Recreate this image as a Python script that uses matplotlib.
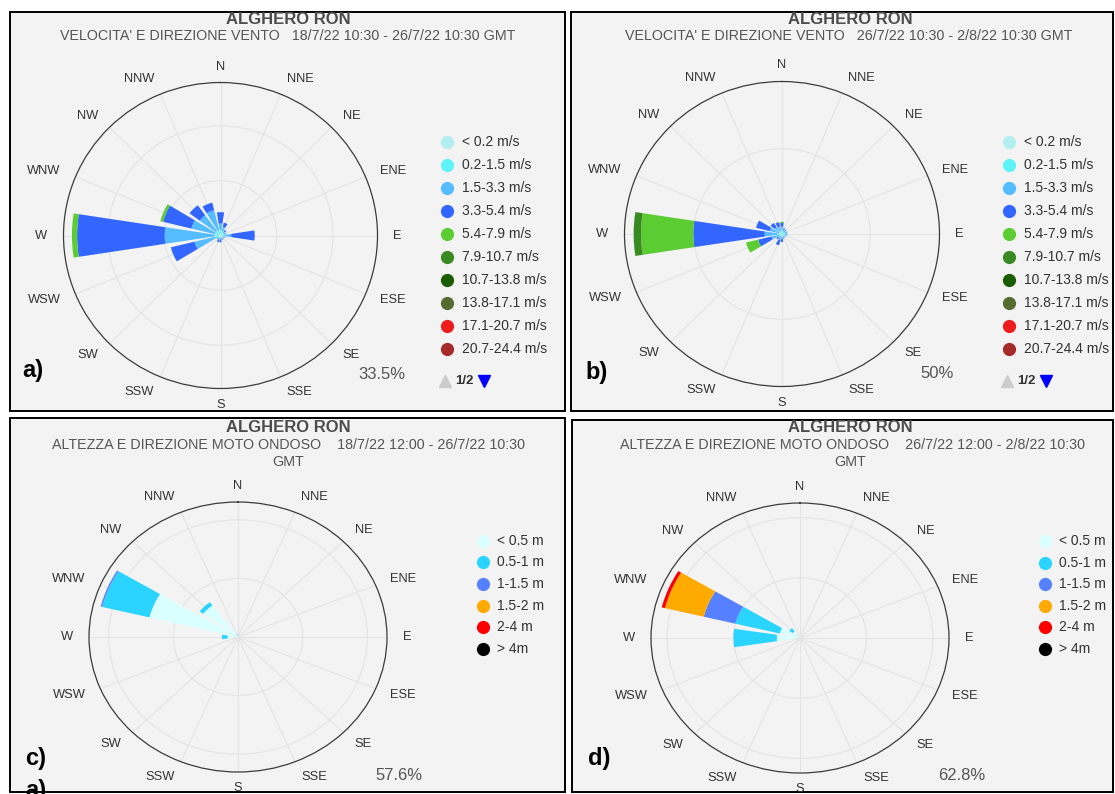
import numpy as np
import matplotlib
matplotlib.use('Agg')
import matplotlib.pyplot as plt
from matplotlib.patches import Rectangle

plt.rcParams['font.family'] = ['Liberation Sans', 'DejaVu Sans']

# ---------------- data ----------------
directions = ['N', 'NNE', 'NE', 'ENE', 'E', 'ESE', 'SE', 'SSE',
              'S', 'SSW', 'SW', 'WSW', 'W', 'WNW', 'NW', 'NNW']

wind_bins = ['< 0.2 m/s', '0.2-1.5 m/s', '1.5-3.3 m/s', '3.3-5.4 m/s', '5.4-7.9 m/s',
             '7.9-10.7 m/s', '10.7-13.8 m/s', '13.8-17.1 m/s', '17.1-20.7 m/s', '20.7-24.4 m/s']
wind_colors = ['#b3eef0', '#5ef3f8', '#55bcff', '#3366ff', '#5ccc33',
               '#3a8a24', '#1a5c00', '#556b2f', '#ee1c1c', '#a52a2a']

wave_bins = ['< 0.5 m', '0.5-1 m', '1-1.5 m', '1.5-2 m', '2-4 m', '> 4m']
wave_colors = ['#d9ffff', '#2ad4ff', '#5580ff', '#ffaa00', '#ff0000', '#000000']

# percent frequency per speed class (rows) and direction (N..NNW)
wind_a = [
    [0.3, 0.3, 0.3, 0.3, 0.3, 0.3, 0.3, 0.3, 0.3, 0.3, 0.3, 0.3, 0.3, 0.3, 0.3, 0.3],
    [0.9, 0.7, 0.5, 0.4, 0.7, 0.4, 0.3, 0.3, 0.3, 0.3, 0.3, 0.9, 1.0, 0.9, 0.9, 0.9],
    [1.4, 1.0, 0.4, 0.3, 1.3, 0.2, 0.2, 0.2, 0.3, 0.3, 0.2, 4.5, 10.6, 5.2, 4.3, 4.5],
    [2.5, 0.9, 0.3, 0.2, 5.0, 0.1, 0.1, 0.2, 0.6, 0.6, 0.2, 5.2, 18.7, 6.2, 2.7, 1.7],
    [0.0, 0.0, 0.0, 0.0, 0.0, 0.0, 0.0, 0.0, 0.0, 0.0, 0.0, 0.0, 1.1, 0.6, 0.0, 0.0],
]
wind_b = [
    [0.3, 0.3, 0.3, 0.3, 0.3, 0.3, 0.3, 0.3, 0.3, 0.3, 0.3, 0.3, 0.3, 0.3, 0.3, 0.3],
    [0.8, 0.6, 0.6, 0.6, 0.7, 0.6, 0.5, 0.5, 0.5, 0.5, 0.5, 0.8, 1.0, 0.8, 0.8, 0.8],
    [1.3, 0.7, 0.6, 0.6, 0.8, 0.7, 0.4, 0.5, 0.8, 1.2, 0.8, 2.4, 4.2, 2.9, 1.7, 1.4],
    [1.2, 0.4, 0.2, 0.1, 0.0, 0.0, 0.0, 0.3, 1.0, 1.8, 0.6, 4.3, 22.65, 4.5, 1.7, 1.5],
    [0.4, 0.0, 0.0, 0.0, 0.0, 0.0, 0.0, 0.0, 0.0, 0.0, 0.0, 3.95, 16.6, 0.0, 0.0, 0.0],
    [0.0, 0.0, 0.0, 0.0, 0.0, 0.0, 0.0, 0.0, 0.0, 0.0, 0.0, 0.0, 2.35, 0.0, 0.0, 0.0],
]
wave_c = [
    [0.8, 0.3, 0.3, 0.3, 0.3, 0.3, 0.3, 0.3, 0.3, 0.3, 0.3, 0.3, 4.0, 35.25, 16.7, 0.5],
    [0.4, 0.0, 0.0, 0.0, 0.0, 0.0, 0.0, 0.0, 0.0, 0.0, 0.0, 0.0, 2.2, 18.8, 1.7, 0.0],
    [0.0, 0.0, 0.0, 0.0, 0.0, 0.0, 0.0, 0.0, 0.0, 0.0, 0.0, 0.0, 0.0, 0.6, 0.0, 0.0],
]
wave_d = [
    [0.3, 0.3, 0.3, 0.3, 0.3, 0.3, 0.3, 0.3, 0.3, 0.3, 0.3, 0.3, 9.8, 8.8, 3.8, 0.3],
    [0.0, 0.0, 0.0, 0.0, 0.0, 0.0, 0.0, 0.0, 0.0, 0.0, 0.0, 0.0, 18.27, 19.27, 1.85, 0.0],
    [0.0, 0.0, 0.0, 0.0, 0.0, 0.0, 0.0, 0.0, 0.0, 0.0, 0.0, 0.0, 0.0, 13.69, 0.0, 0.0],
    [0.0, 0.0, 0.0, 0.0, 0.0, 0.0, 0.0, 0.0, 0.0, 0.0, 0.0, 0.0, 0.0, 16.84, 0.0, 0.0],
    [0.0, 0.0, 0.0, 0.0, 0.0, 0.0, 0.0, 0.0, 0.0, 0.0, 0.0, 0.0, 0.0, 1.4, 0.0, 0.0],
]

rmax_a, rmax_b, rmax_c, rmax_d = 33.5, 50.0, 57.6, 62.8
rings_a, rings_b, rings_c, rings_d = [12, 24], [28], [25, 50], [28, 56]

title = 'ALGHERO RON'
sub_a = "VELOCITA' E DIREZIONE VENTO   18/7/22 10:30 - 26/7/22 10:30 GMT"
sub_b = "VELOCITA' E DIREZIONE VENTO   26/7/22 10:30 - 2/8/22 10:30 GMT"
sub_c = "ALTEZZA E DIREZIONE MOTO ONDOSO    18/7/22 12:00 - 26/7/22 10:30"
sub_d = "ALTEZZA E DIREZIONE MOTO ONDOSO    26/7/22 12:00 - 2/8/22 10:30"

# ---------------- figure ----------------
W, H = 1115, 794
fig = plt.figure(figsize=(W / 100, H / 100), dpi=100)
fig.patch.set_facecolor('white')

bg = fig.add_axes([0, 0, 1, 1], zorder=0)
bg.set_xlim(0, W)
bg.set_ylim(H, 0)
bg.axis('off')

TXT = '#333333'
GREY = '#555555'


def panel(x0, y0, x1, y1):
    bg.add_patch(Rectangle((x0, y0), x1 - x0, y1 - y0, facecolor='#f3f3f3',
                           edgecolor='black', lw=1.4, zorder=0))


panel(10, 12, 565, 411)
panel(571, 12, 1113, 411)
panel(10, 418, 565, 792)
panel(572, 420, 1113, 792)


def rose(cx, cy, rx, ry, data, colors, rmax, rings):
    rect = [(cx - rx) / W, (H - (cy + ry)) / H, 2 * rx / W, 2 * ry / H]
    ax = fig.add_axes(rect, projection='polar', zorder=1)
    ax.set_aspect('auto')
    ax.patch.set_alpha(0)
    ax.set_theta_zero_location('N')
    ax.set_theta_direction(-1)
    theta = np.deg2rad(np.arange(16) * 22.5)
    width = np.deg2rad(22.5 * 0.78)
    bottom = np.zeros(16)
    for row, col in zip(data, colors):
        vals = np.array(row, dtype=float)
        ax.bar(theta, vals, width=width, bottom=bottom, color=col,
               edgecolor='none', linewidth=0, zorder=2)
        bottom = bottom + vals
    ax.set_ylim(0, rmax)
    ax.set_xticks(theta)
    ax.set_xticklabels([])
    ax.set_yticks(rings)
    ax.set_yticklabels([])
    ax.tick_params(length=0)
    ax.grid(color='#e4e4e4', lw=0.8)
    ax.set_axisbelow(True)
    ax.spines['polar'].set_color('#3c3c3c')
    ax.spines['polar'].set_linewidth(0.9)
    for name, th in zip(directions, theta):
        deg = np.rad2deg(th)
        if deg in (0.0, 180.0):
            ha = 'center'
        elif deg < 180:
            ha = 'left'
        else:
            ha = 'right'
        off = 16 * 0.72
        ax.annotate(name, xy=(th, rmax), xytext=(off * np.sin(th), off * np.cos(th)),
                    textcoords='offset points', ha=ha, va='center', fontsize=9.3,
                    color=TXT, annotation_clip=False)
    return ax


rose(220.5, 235.5, 157, 153, wind_a, wind_colors, rmax_a, rings_a)
rose(782, 234, 157.5, 152.5, wind_b, wind_colors, rmax_b, rings_b)
rose(238, 637, 149, 135, wave_c, wave_colors, rmax_c, rings_c)
rose(800, 638, 149, 135, wave_d, wave_colors, rmax_d, rings_d)

# titles
for x, y, s in [(288, 20, title), (850, 20, title), (288, 427, title), (850, 428, title)]:
    bg.text(x, y, s, ha='center', va='center', fontsize=12, fontweight='bold', color='#4d4d4d')
for x, y, s in [(288, 36, sub_a), (849, 36, sub_b), (288, 445, sub_c), (852, 445, sub_d),
                (288, 462, 'GMT'), (850, 462, 'GMT')]:
    bg.text(x, y, s, ha='center', va='center', fontsize=10.3, color=GREY)

# legends
def legend(xc, xt, y0, dy, labels, colors):
    for i, (lab, col) in enumerate(zip(labels, colors)):
        y = y0 + i * dy
        bg.plot([xc], [y], marker='o', ms=9.5, color=col, mec='none', ls='none')
        bg.text(xt, y, lab, ha='left', va='center', fontsize=10, color=TXT)


legend(447, 462, 141.5, 23.1, wind_bins, wind_colors)
legend(1009, 1024, 141.5, 23.1, wind_bins, wind_colors)
legend(483, 497, 540.7, 21.6, wave_bins, wave_colors)
legend(1045, 1059, 541, 21.6, wave_bins, wave_colors)

for dx in (0, 562):
    bg.plot([445 + dx], [381], marker='^', ms=9, color='#cccccc', ls='none')
    bg.text(455 + dx, 381, '1/2', ha='left', va='center', fontsize=9.5,
            fontweight='bold', color='#333333')
    bg.plot([484 + dx], [381], marker='v', ms=9, color='#0000ff', ls='none')

# percentage labels
for x, y, s in [(382, 374.5, '33.5%'), (937, 373.5, '50%'),
                (399, 775, '57.6%'), (962, 776, '62.8%')]:
    bg.text(x, y, s, ha='center', va='center', fontsize=12, color=GREY)

# panel letters
for x, y, s in [(22, 371, 'a)'), (585, 372, 'b)'), (25, 758, 'c)'), (588, 759, 'd)')]:
    bg.text(x, y, s, ha='left', va='center', fontsize=17, fontweight='bold', color='black')
bg.text(25, 779, 'a)', ha='left', va='top', fontsize=17, fontweight='bold', color='black')

fig.savefig('out.png', dpi=100, facecolor='white')
